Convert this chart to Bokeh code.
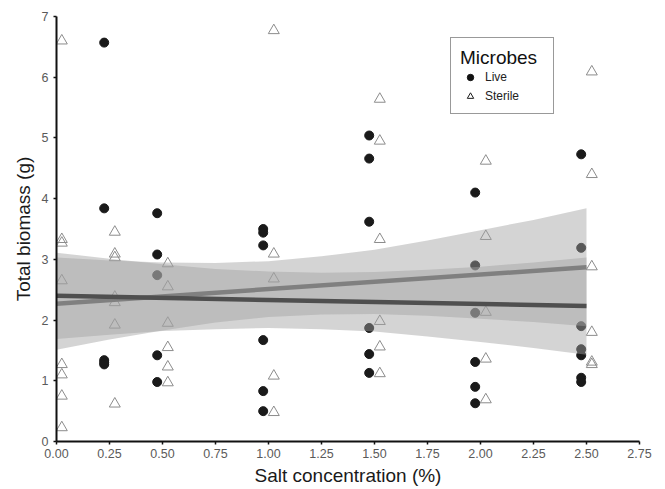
from bokeh.plotting import figure
from bokeh.models import Range1d, FixedTicker, Legend, LegendItem, PrintfTickFormatter, ColumnDataSource
from bokeh.transform import dodge
from bokeh.embed import file_html
from bokeh.resources import INLINE

# ---------------- data ----------------
x_ticks = [0.0, 0.25, 0.5, 0.75, 1.0, 1.25, 1.5, 1.75, 2.0, 2.25, 2.5, 2.75]
y_ticks = [0, 1, 2, 3, 4, 5, 6, 7]

live_salt = [0.25] * 5 + [0.5] * 5 + [1.0] * 6 + [1.5] * 6 + [2.0] * 6 + [2.5] * 7
live_biomass = [6.57, 3.84, 1.34, 1.30, 1.27,
                3.76, 3.08, 2.74, 1.42, 0.98,
                3.50, 3.44, 3.23, 1.67, 0.83, 0.50,
                5.04, 4.66, 3.62, 1.87, 1.44, 1.13,
                4.10, 2.90, 2.12, 1.31, 0.90, 0.63,
                4.73, 3.19, 1.90, 1.52, 1.42, 1.05, 0.98]

sterile_salt = [0.0] * 8 + [0.25] * 7 + [0.5] * 6 + [1.0] * 5 + [1.5] * 6 + [2.0] * 5 + [2.5] * 6
sterile_biomass = [6.60, 3.33, 3.27, 2.65, 1.27, 1.10, 0.75, 0.23,
                   3.45, 3.09, 3.03, 2.38, 2.29, 1.92, 0.62,
                   2.93, 2.55, 1.95, 1.55, 1.23, 0.97,
                   6.77, 3.09, 2.68, 1.08, 0.48,
                   5.64, 4.95, 3.33, 1.98, 1.56, 1.12,
                   4.62, 3.38, 2.13, 1.36, 0.69,
                   6.09, 4.40, 2.88, 1.80, 1.31, 1.27]

fit_x = [0.0, 2.5]
live_fit = [2.40, 2.23]
sterile_fit = [2.27, 2.87]

band_x = [0.0, 0.25, 0.5, 0.75, 1.0, 1.25, 1.5, 1.75, 2.0, 2.25, 2.5]
live_lower = [1.69, 1.76, 1.82, 1.85, 1.87, 1.85, 1.81, 1.73, 1.64, 1.54, 1.43]
live_upper = [3.11, 3.01, 2.92, 2.84, 2.80, 2.78, 2.79, 2.83, 2.88, 2.95, 3.03]
sterile_lower = [1.51, 1.68, 1.83, 1.96, 2.05, 2.09, 2.10, 2.07, 2.02, 1.97, 1.90]
sterile_upper = [3.03, 2.98, 2.95, 2.94, 2.97, 3.05, 3.16, 3.31, 3.48, 3.65, 3.84]

# ---------------- figure ----------------
p = figure(width=653, height=489, output_backend="svg", toolbar_location=None,
           x_range=Range1d(0, 2.75), y_range=Range1d(0, 7),
           min_border_left=56, min_border_right=14, min_border_top=16, min_border_bottom=48)
p.grid.visible = False
p.outline_line_color = None
p.background_fill_color = "white"
p.border_fill_color = "white"

live_src = ColumnDataSource(dict(salt=live_salt, biomass=live_biomass))
ster_src = ColumnDataSource(dict(salt=sterile_salt, biomass=sterile_biomass))

r_live = p.scatter(x=dodge("salt", -0.025, range=p.x_range), y="biomass", source=live_src,
                   marker="circle", size=9, fill_color="#1a1a1a", line_color="#1a1a1a")
r_ster = p.scatter(x=dodge("salt", 0.025, range=p.x_range), y="biomass", source=ster_src,
                   marker="triangle", size=11, fill_color=None, line_color="#8c8c8c", line_width=1)

p.varea(x=band_x, y1=live_lower, y2=live_upper, fill_color="#a2a2a2", fill_alpha=0.46)
p.varea(x=band_x, y1=sterile_lower, y2=sterile_upper, fill_color="#a2a2a2", fill_alpha=0.46)

p.line(fit_x, sterile_fit, line_width=4.5, line_color="#808080")
p.line(fit_x, live_fit, line_width=4.5, line_color="#4f4f4f")

# hidden key renderers (same data) so the legend key can use black symbols
leg_live = p.scatter(x="salt", y="biomass", source=live_src, visible=False,
                     marker="circle", size=8, fill_color="#111111", line_color="#111111")
leg_ster = p.scatter(x="salt", y="biomass", source=ster_src, visible=False,
                     marker="triangle", size=11, fill_color=None, line_color="#1a1a1a", line_width=1)

legend = Legend(items=[LegendItem(label="Live", renderers=[leg_live]),
                       LegendItem(label="Sterile", renderers=[leg_ster])],
                title="Microbes", location=(394, 327))
legend.inactive_fill_alpha = 0.0
legend.title_text_font = "Liberation Sans"
legend.title_text_font_size = "19px"
legend.title_text_font_style = "normal"
legend.title_text_color = "#111111"
legend.title_standoff = 0
legend.label_text_font = "Liberation Sans"
legend.label_text_font_size = "12px"
legend.label_text_color = "#222222"
legend.label_standoff = 5
legend.label_width = 59
legend.glyph_width = 20
legend.glyph_height = 16
legend.spacing = 3
legend.padding = 9
legend.margin = 0
legend.border_line_color = "#333333"
legend.border_line_width = 1.5
legend.background_fill_alpha = 1.0
p.add_layout(legend, "center")

# axes
p.xaxis.ticker = FixedTicker(ticks=x_ticks)
p.xaxis.formatter = PrintfTickFormatter(format="%.2f")
p.yaxis.ticker = FixedTicker(ticks=y_ticks)
p.xaxis.axis_label = "Salt concentration (%)"
p.yaxis.axis_label = "Total biomass (g)"
for ax in (p.xaxis, p.yaxis):
    ax.axis_line_width = 2
    ax.axis_line_color = "#111111"
    ax.major_tick_line_width = 1.5
    ax.major_tick_line_color = "#111111"
    ax.major_tick_out = 3
    ax.major_tick_in = 0
    ax.minor_tick_line_color = None
    ax.major_label_text_font = "Liberation Sans"
    ax.major_label_text_font_size = "12.5px"
    ax.major_label_text_color = "#5a5a5a"
    ax.axis_label_text_font = "Liberation Sans"
    ax.axis_label_text_font_size = "19px"
    ax.axis_label_text_font_style = "normal"
    ax.axis_label_text_color = "#1a1a1a"
p.xaxis.major_label_standoff = 4
p.xaxis.axis_label_standoff = 4
p.yaxis.major_label_standoff = 5
p.yaxis.axis_label_standoff = 5

open("out.html", "w").write(file_html(p, INLINE))
